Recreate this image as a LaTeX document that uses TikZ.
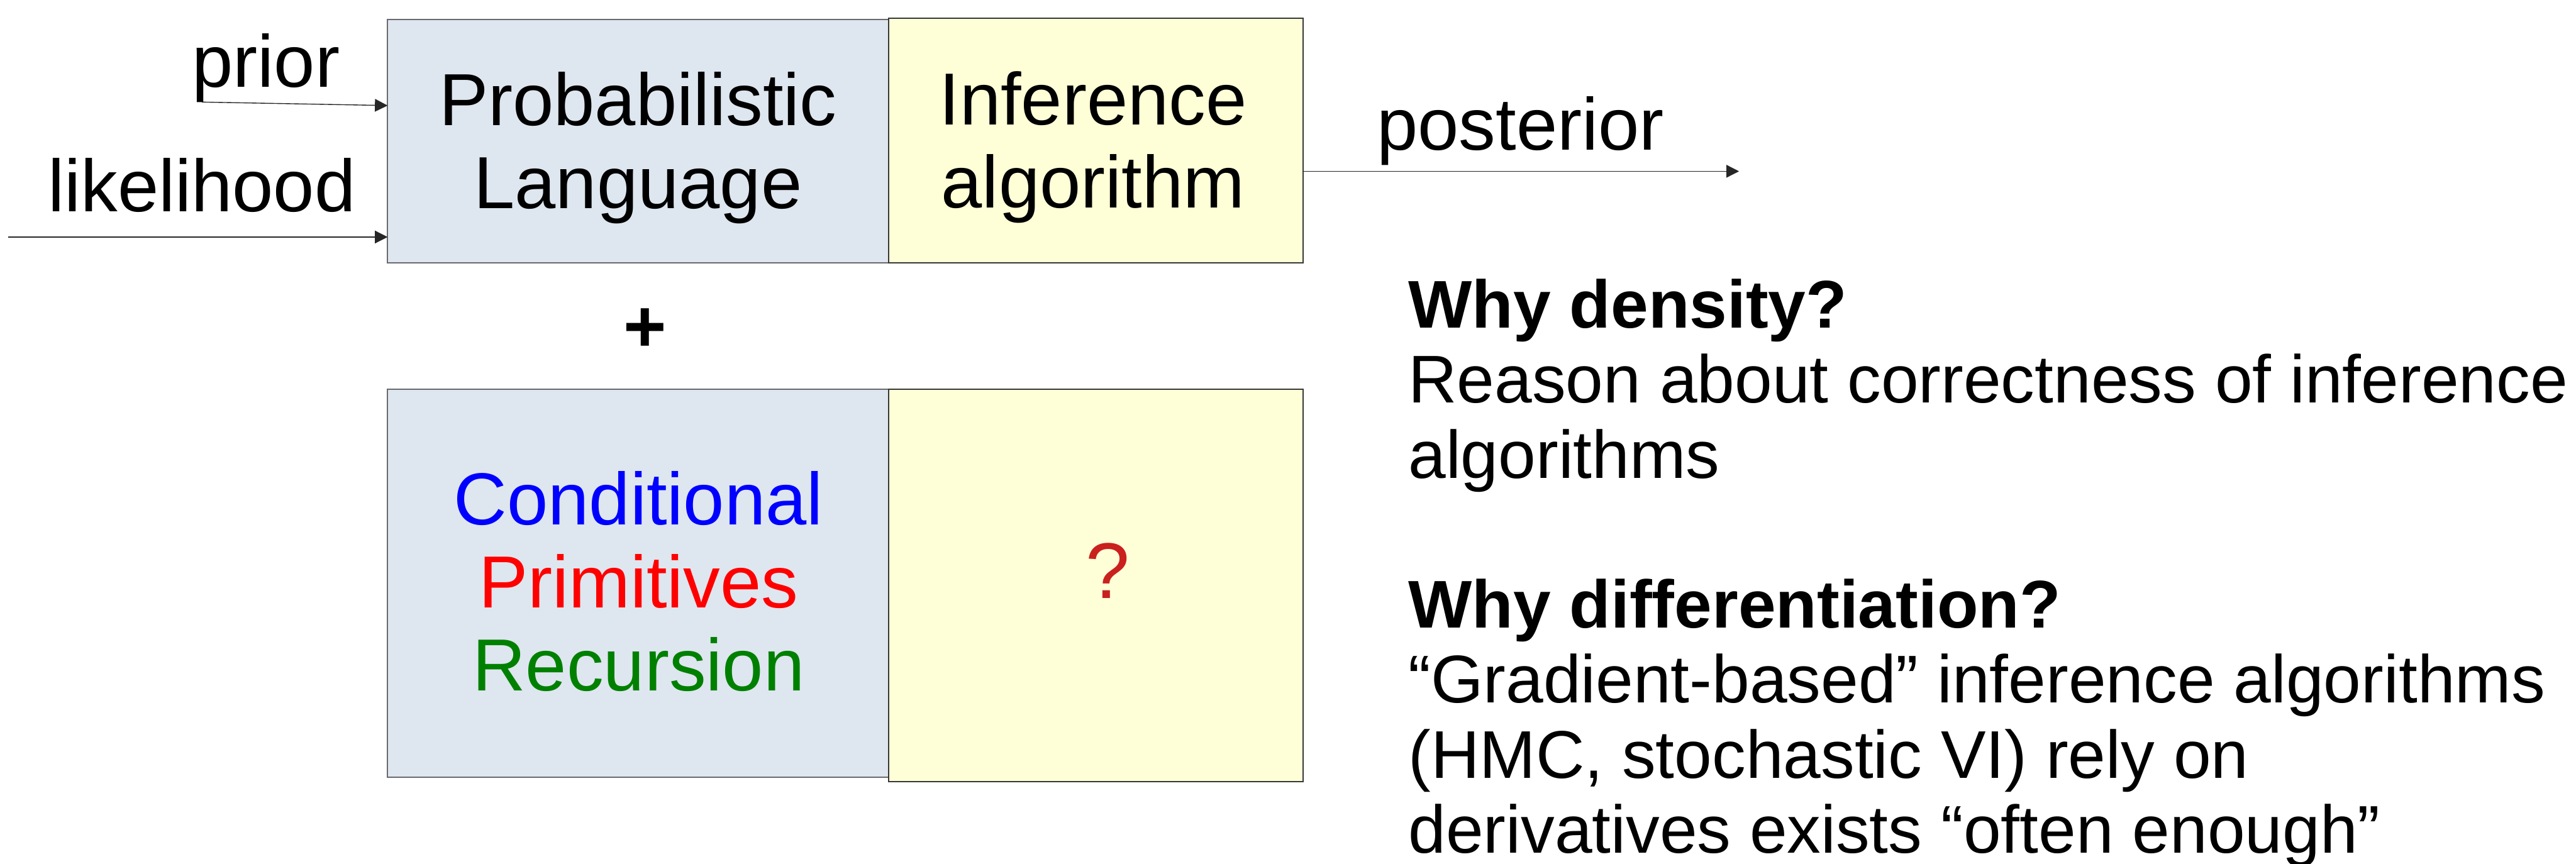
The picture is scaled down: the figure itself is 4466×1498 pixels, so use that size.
\documentclass[tikz,border=0pt]{standalone}
\usepackage{fontspec}
\setmainfont{Liberation Sans}
\usepackage{tikz}
\usetikzlibrary{arrows.meta, positioning, calc}
\definecolor{bgray} {RGB}{222,230,239}
\definecolor{lyel}  {RGB}{255,255,215}
\definecolor{edgeg} {RGB}{105,105,110}
\definecolor{edged} {RGB}{ 55, 55, 55}
\definecolor{cblue} {RGB}{  0,  0,255}
\definecolor{cred}  {RGB}{255,  0,  0}
\definecolor{cgrn}  {RGB}{  0,128,  0}
\definecolor{qred}  {RGB}{201, 33, 30}
\tikzset{
  % Blue-gray language box
  LB/.style={rectangle,draw=edgeg,fill=bgray,line width=0.2mm,
             inner sep=0pt,outer sep=0pt,minimum width=86.9mm},
  % Yellow algorithm box
  YB/.style={rectangle,draw=edged,fill=lyel,line width=0.2mm,
             inner sep=0pt,outer sep=0pt,minimum width=71.8mm},
  % Large labels
  Lbl/.style={inner sep=0pt,align=center,font=\fontsize{36.4}{41}\selectfont},
  % Side notes
  Note/.style={inner sep=0pt,align=left,font=\fontsize{33.3}{37}\selectfont},
  % Arrows
  Arr/.style={-{Triangle[length=2.2mm,width=2.2mm]},line width=0.15mm,
              color=black!85},
}
\begin{document}
\begin{tikzpicture}[x=0.1mm,y=-0.1mm]
  \useasboundingbox (0,0) rectangle (4466,1498);
  % Top row
  \node[LB,minimum height=42.2mm] at (1106.5,245) (pl) {};
  \node[YB,minimum height=42.4mm,anchor=south west] at (pl.south east) (ia) {};
  \node[Lbl,anchor=base] at (1106,362) (pltxt) {Probabilistic\\Language};
  \node[Lbl,anchor=base] at (1895,360) (iatxt) {Inference\\algorithm};
  % Inputs
  \node[Lbl,anchor=base] at (461,151) (prior) {prior};
  \node[Lbl,anchor=base] at (350,367) (lik) {likelihood};
  \coordinate (priorA) at (350,177);
  \coordinate (likA) at (14,411);
  \draw[Arr] (priorA) -- ([yshift=6.2mm]pl.west);
  \draw[Arr] (likA) -- (likA -| pl.west);
  % Output
  \node[Lbl,anchor=base] at (2636,260) (post) {posterior};
  \coordinate (postB) at (3015,297);
  \draw[Arr] (postB -| ia.east) -- (postB);
  % Plus
  \node[Lbl,font=\fontsize{36.4}{41}\selectfont\bfseries] at (1118,572) (plus) {+};
  % Bottom row
  \node[LB,minimum height=67.3mm] at (1106.5,1011.5) (cpr) {};
  \node[YB,minimum height=68mm,anchor=north west] at (cpr.north east) (qm) {};
  \node[Lbl,anchor=base] at (1107,1198) (cprtxt)
       {\textcolor{cblue}{Conditional}\\\textcolor{cred}{Primitives}\\
        \textcolor{cgrn}{Recursion}};
  \node[Lbl,anchor=base,text=qred,font=\fontsize{39}{44}\selectfont]
       at (1921,1038) (qmark) {?};
  % Notes
  \node[Note,anchor=base west] at (2441,1479) (notes)
       {\textbf{Why density?}\\
        Reason about correctness of inference\\
        algorithms\\[37pt]
        \textbf{Why differentiation?}\\
        “Gradient-based” inference algorithms\\
        (HMC, stochastic VI) rely on\\
        derivatives exists “often enough”};
\end{tikzpicture}
\end{document}
